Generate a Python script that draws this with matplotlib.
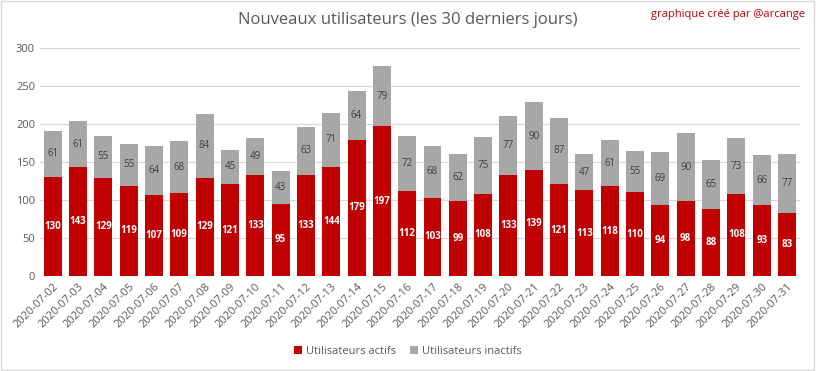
import matplotlib
matplotlib.use("Agg")
import matplotlib.pyplot as plt
from matplotlib.patches import Rectangle

dates = ["2020-07-%02d" % d for d in range(2, 32)]
actifs = [130, 143, 129, 119, 107, 109, 129, 121, 133, 95, 133, 144, 179, 197,
          112, 103, 99, 108, 133, 139, 121, 113, 118, 110, 94, 98, 88, 108, 93, 83]
inactifs = [61, 61, 55, 55, 64, 68, 84, 45, 49, 43, 63, 71, 64, 79,
            72, 68, 62, 75, 77, 90, 87, 47, 61, 55, 69, 90, 65, 73, 66, 77]

plt.rcParams['font.family'] = ['Open Sans', 'DejaVu Sans']
red = "#C00000"
grey = "#A9A6A6"
txt = "#595959"

fig = plt.figure(figsize=(8.16, 3.71), dpi=100)
ax = fig.add_axes([0.049, 0.256, 0.931, 0.615])
x = list(range(len(dates)))
b1 = ax.bar(x, actifs, width=0.71, color=red, label="Utilisateurs actifs", zorder=3)
b2 = ax.bar(x, inactifs, bottom=actifs, width=0.71, color=grey, label="Utilisateurs inactifs", zorder=3)
for i in x:
    ax.text(i, actifs[i] / 2, str(actifs[i]), ha='center', va='center', color='white',
            fontsize=7, fontweight='bold', zorder=4)
    ax.text(i, actifs[i] + inactifs[i] / 2, str(inactifs[i]), ha='center', va='center',
            color='#404040', fontsize=7, zorder=4)

ax.set_ylim(0, 300)
ax.set_xlim(-0.5, len(dates) - 0.5)
ax.set_yticks(range(0, 301, 50))
ax.yaxis.grid(True, color="#D9D9D9", linewidth=0.9, zorder=0)
ax.set_axisbelow(True)
for s in ax.spines.values():
    s.set_visible(False)
ax.tick_params(axis='both', length=0, colors=txt, labelsize=8)
ax.set_xticks(x)
ax.set_xticklabels(dates, rotation=45, ha='right', rotation_mode='anchor')
ax.tick_params(axis='x', pad=4)

fig.text(0.5, 0.945, "Nouveaux utilisateurs (les 30 derniers jours)", ha='center', va='center',
         fontsize=12, color=txt)
fig.text(0.987, 0.962, "graphique créé par @arcange", ha='right', va='center', fontsize=8, color=red)
fig.legend(handles=[b1, b2], loc='center', bbox_to_anchor=(0.5, 0.052), ncol=2, frameon=False,
           fontsize=8, handlelength=0.7, handleheight=0.7, columnspacing=1.2, handletextpad=0.4,
           labelcolor=txt)
fig.patches.append(Rectangle((0.001, 0.002), 0.997, 0.995, transform=fig.transFigure,
                             fill=False, edgecolor="#D9D9D9", linewidth=1))
fig.savefig("out.png", dpi=100)
